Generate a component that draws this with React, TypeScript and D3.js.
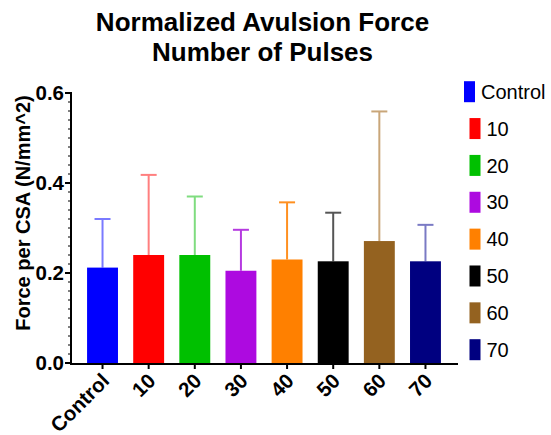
import React from "react";
import * as d3 from "d3";

const groups = ["Control", "10", "20", "30", "40", "50", "60", "70"];
const means = [0.212, 0.24, 0.24, 0.205, 0.23, 0.226, 0.271, 0.226];
const upper = [0.32, 0.418, 0.37, 0.296, 0.357, 0.334, 0.559, 0.307];
const fills = ["#0000ff", "#ff0000", "#00c000", "#ad0ae0", "#ff8000", "#000000", "#946220", "#000080"];
const errColors = ["#7a7aff", "#ff7f7f", "#7fdc7f", "#b53ae0", "#ff9020", "#555555", "#c9a679", "#7a7ac4"];
const yTicks = [0, 0.2, 0.4, 0.6];

const W = 551;
const H = 435;
const font = "'Liberation Sans', Arial, sans-serif";

const App = () => {
    const x = d3.scaleBand<string>()
        .domain(groups)
        .range([70, 458])
        .paddingInner(0.33)
        .paddingOuter(0.37);

    const y = d3.scaleLinear().domain([0, 0.6]).range([363, 93]);
    const minor = d3.range(0, 0.6001, 0.02);

    const legendY = d3.scalePoint<string>()
        .domain(groups)
        .range([91.7, 349.7]);

    const bw = x.bandwidth();

    return (
        <svg width={W} height={H} style={{ position: "absolute", left: 0, top: 0 }} fontFamily={font}>
            <text x={262.5} y={31} textAnchor="middle" fontSize={26} fontWeight="bold">
                Normalized Avulsion Force
            </text>
            <text x={262.5} y={61} textAnchor="middle" fontSize={26} fontWeight="bold">
                Number of Pulses
            </text>

            {groups.map((g, i) => {
                const cx = x(g)! + bw / 2;
                return (
                    <g key={g}>
                        <line x1={cx} x2={cx} y1={y(means[i])} y2={y(upper[i])}
                            stroke={errColors[i]} strokeWidth={2} />
                        <line x1={cx - 8} x2={cx + 8} y1={y(upper[i])} y2={y(upper[i])}
                            stroke={errColors[i]} strokeWidth={2} />
                        <rect x={x(g)} y={y(means[i])} width={bw} height={y(0) - y(means[i])}
                            fill={fills[i]} />
                    </g>
                );
            })}

            {/* y axis */}
            <line x1={71} x2={71} y1={y(0.6) - 1} y2={y(0) + 1} stroke="#000" strokeWidth={2} />
            {minor.map((t) => (
                <line key={t} x1={68} x2={71} y1={y(t)} y2={y(t)} stroke="#000" strokeWidth={1} />
            ))}
            {yTicks.map((t) => (
                <g key={t}>
                    <line x1={65} x2={71} y1={y(t)} y2={y(t)} stroke="#000" strokeWidth={2} />
                    <text x={64} y={y(t)} dy="0.36em" textAnchor="end" fontSize={20.5} fontWeight="bold">
                        {d3.format(".1f")(t)}
                    </text>
                </g>
            ))}
            <text transform={`translate(30,213) rotate(-90)`} textAnchor="middle" fontSize={20} fontWeight="bold">
                Force per CSA (N/mm^2)
            </text>

            {/* x axis */}
            <line x1={70} x2={458} y1={y(0) + 1} y2={y(0) + 1} stroke="#000" strokeWidth={2} />
            {groups.map((g) => {
                const cx = x(g)! + bw / 2;
                return (
                    <g key={g}>
                        <line x1={cx} x2={cx} y1={y(0) + 1} y2={y(0) + 6} stroke="#000" strokeWidth={2} />
                        <text transform={`translate(${cx + 3},377) rotate(-45)`} dy="0.35em"
                            textAnchor="end" fontSize={20.5} fontWeight="bold">
                            {g}
                        </text>
                    </g>
                );
            })}

            {/* legend */}
            {groups.map((g, i) => {
                const lx = i === 0 ? 464 : 469.5;
                const cy = legendY(g)!;
                return (
                    <g key={g}>
                        <rect x={lx} y={cy - 10.5} width={11} height={21} fill={fills[i]} />
                        <text x={lx + 17} y={cy} dy="0.36em" fontSize={20}>
                            {g}
                        </text>
                    </g>
                );
            })}
        </svg>
    );
};

export default App;
